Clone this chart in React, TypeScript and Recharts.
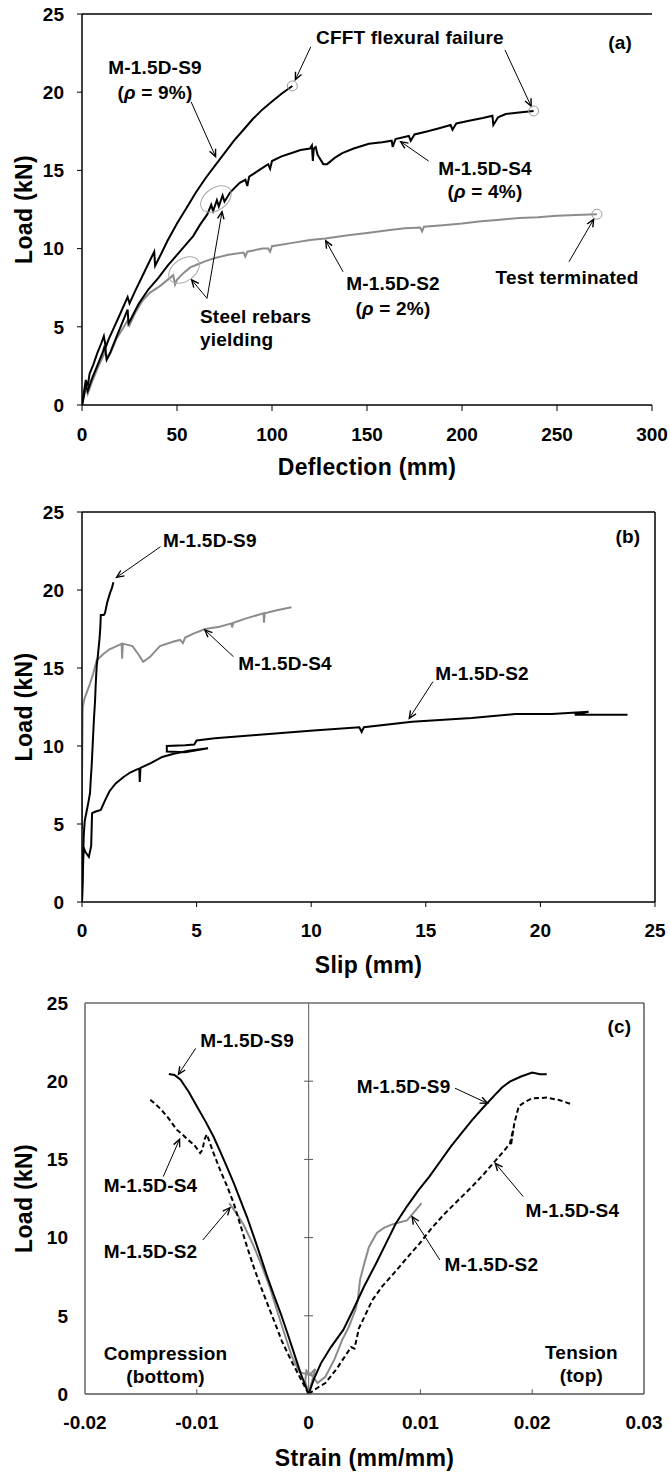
import React from 'react'
import { LineChart, Line, XAxis, YAxis, ReferenceLine, ReferenceDot } from 'recharts'

type P = { x: number; y: number }
const toPts = (a: number[][]): P[] => a.map(([x, y]) => ({ x, y }))

const FONT = '"Liberation Sans", Arial, sans-serif'
const GRAY = '#8c8c8c'

const loadTicks = [0, 5, 10, 15, 20, 25]
const deflectionTicks = [0, 50, 100, 150, 200, 250, 300]
const slipTicks = [0, 5, 10, 15, 20, 25]
const strainTicks = [-0.02, -0.01, 0, 0.01, 0.02, 0.03]
const strainInnerTicks = [-0.01, 0.01, 0.02]
const centerTicks = [5, 10, 15, 20]

// (a) load vs mid-span deflection
const defS9 = toPts([
  [0, 0], [1, 0.8], [2, 1.6], [3, 1.2], [4, 2.0], [6, 2.6], [8, 3.3], [10, 3.9], [11.5, 4.4], [12.5, 3.7],
  [14, 4.2], [17, 5.0], [20, 5.8], [24, 6.9], [25, 6.5], [28, 7.3], [32, 8.3], [36, 9.3], [38, 9.8], [38.5, 8.9],
  [41, 9.5], [45, 10.5], [50, 11.6], [55, 12.6], [60, 13.6], [65, 14.5], [70, 15.3], [75, 16.1], [80, 16.9],
  [85, 17.6], [90, 18.3], [95, 18.9], [100, 19.4], [105, 19.9], [110.7, 20.4],
])
const defS4 = toPts([
  [0, 0], [1, 0.6], [2, 1.3], [3, 0.9], [5, 1.6], [8, 2.5], [11, 3.4], [12, 3.8], [13, 2.9], [15, 3.4],
  [18, 4.3], [21, 5.2], [24, 6.1], [24.5, 5.2], [27, 5.8], [30, 6.5], [35, 7.4], [40, 8.1], [45, 8.9],
  [50, 9.6], [55, 10.3], [58.5, 10.8], [62, 11.5], [66, 12.2], [68, 12.8], [69, 12.4], [71, 13.1], [72, 12.7],
  [74, 13.4], [75, 13.0], [78, 13.6], [83, 14.2], [86, 14.4], [87, 14.0], [88, 14.6], [93, 15.0], [98, 15.4],
  [99, 15.1], [100, 15.6], [105, 15.9], [110, 16.1], [115, 16.3], [120, 16.4], [121, 16.6], [121.5, 15.6],
  [122, 16.4], [123, 16.5], [124, 16.0], [127, 15.4], [129, 15.4], [133, 15.8], [137, 16.1], [143, 16.4],
  [151, 16.7], [158, 16.8], [163, 16.9], [163.5, 16.5], [165, 17.0], [172, 17.2], [173, 16.9], [175, 17.3],
  [182, 17.5], [188, 17.7], [194, 17.9], [195, 17.6], [197, 18.0], [205, 18.2], [211, 18.35], [216, 18.5],
  [216.5, 17.9], [219, 18.4], [223, 18.6], [230, 18.7], [237.7, 18.8],
])
const defS2 = toPts([
  [0, 0], [1, 0.5], [2, 1.1], [3, 0.7], [5, 1.4], [8, 2.3], [11, 3.1], [12.5, 3.5], [13, 2.9], [15, 3.3],
  [18, 4.2], [21, 4.8], [24, 5.4], [25, 5.1], [28, 5.9], [32, 6.7], [36, 7.2], [41, 7.6], [45, 8.0], [48, 8.3],
  [49, 7.7], [50, 8.0], [53, 8.4], [57, 8.8], [61, 9.0], [65, 9.2], [70, 9.4], [77, 9.6], [85, 9.75], [86, 9.5],
  [87, 9.8], [95, 10.0], [98, 10.0], [99, 9.8], [100, 10.15], [110, 10.35], [120, 10.55], [128, 10.65],
  [140, 10.85], [150, 11.0], [160, 11.15], [170, 11.3], [178, 11.35], [179, 11.1], [180, 11.4], [190, 11.5],
  [200, 11.6], [210, 11.75], [220, 11.85], [230, 11.95], [240, 12.0], [250, 12.1], [260, 12.15], [271, 12.2],
])
const defEnds = toPts([[110.7, 20.4], [237.7, 18.8], [271, 12.2]])

// (b) load vs end slip
const slipS9 = toPts([
  [0, 0], [0.02, 1.5], [0.05, 3.0], [0.08, 4.4], [0.12, 5.2], [0.2, 5.8], [0.28, 6.4], [0.35, 7.0], [0.38, 7.8],
  [0.42, 8.7], [0.45, 9.6], [0.49, 10.8], [0.52, 11.7], [0.57, 12.9], [0.6, 14.0], [0.64, 15.1], [0.7, 15.9],
  [0.76, 16.8], [0.8, 17.6], [0.82, 18.4], [0.95, 18.4], [1.0, 18.5], [1.1, 19.2], [1.22, 19.8], [1.3, 20.1],
  [1.37, 20.5],
])
const slipS4 = toPts([
  [0, 4.7], [0, 8], [0.02, 11], [0.03, 12.5], [0.1, 13.0], [0.2, 13.4], [0.35, 14.0], [0.49, 14.65], [0.64, 15.5],
  [0.93, 15.9], [1.2, 16.2], [1.51, 16.4], [1.73, 16.55], [1.75, 15.6], [1.78, 16.55], [1.95, 16.5], [2.2, 16.4],
  [2.45, 15.9], [2.67, 15.4], [2.96, 15.7], [3.4, 16.4], [4.0, 16.7], [4.28, 16.8], [4.4, 16.6], [4.5, 16.95],
  [4.86, 17.2], [5.37, 17.5], [6.0, 17.65], [6.52, 17.86], [6.55, 17.6], [6.6, 17.9], [7.2, 18.2], [7.92, 18.5],
  [7.94, 17.9], [7.97, 18.5], [8.5, 18.7], [9.14, 18.9],
])
const slipS2 = toPts([
  [0, 0], [0.03, 1.5], [0.07, 3.5], [0.15, 3.2], [0.3, 2.9], [0.4, 3.6], [0.44, 5.7], [0.6, 5.8], [0.82, 5.9],
  [1.0, 6.5], [1.2, 7.1], [1.47, 7.6], [1.8, 8.0], [2.1, 8.3], [2.4, 8.5], [2.5, 8.55], [2.52, 7.7], [2.55, 8.6],
  [3.0, 8.9], [3.5, 9.3], [4.0, 9.5], [4.65, 9.7], [5.5, 9.85], [4.5, 9.6], [3.7, 9.65], [3.7, 10.0], [4.5, 10.05],
  [4.9, 10.1], [5.0, 10.35], [5.8, 10.5], [7.6, 10.7], [10.1, 11.0], [12.1, 11.2], [12.2, 10.9], [12.3, 11.2],
  [14.4, 11.55], [17.0, 11.8], [18.9, 12.05], [20.5, 12.05], [22.1, 12.2], [21.5, 12.0], [23.8, 12.0],
])

// (c) load vs strain (compression side negative, tension side positive)
const compS9 = toPts([
  [0, 0], [-0.0007, 1.3], [-0.0013, 2.6], [-0.0019, 3.9], [-0.0025, 5.16], [-0.0031, 6.3], [-0.0037, 7.5],
  [-0.0043, 8.8], [-0.0049, 10.06], [-0.0055, 11.3], [-0.0061, 12.4], [-0.0067, 13.5], [-0.0073, 14.5],
  [-0.0079, 15.5], [-0.0085, 16.45], [-0.0092, 17.4], [-0.01, 18.4], [-0.0107, 19.3], [-0.01145, 20.1],
  [-0.012, 20.4], [-0.0125, 20.46],
])
const compS4 = toPts([
  [0, 0], [-0.0008, 1.1], [-0.0016, 2.2], [-0.0024, 3.4], [-0.0031, 4.7], [-0.0037, 5.8], [-0.0043, 6.9],
  [-0.0049, 8.1], [-0.0055, 9.4], [-0.0061, 10.8], [-0.0067, 12.2], [-0.0073, 13.3], [-0.0079, 14.3],
  [-0.0085, 15.4], [-0.0091, 16.6], [-0.0093, 16.3], [-0.0095, 15.6], [-0.0097, 15.4], [-0.0102, 15.9],
  [-0.0107, 16.2], [-0.0113, 16.6], [-0.0118, 16.9], [-0.0125, 17.6], [-0.0132, 18.2], [-0.0138, 18.6],
  [-0.0143, 18.9],
])
const compS2 = toPts([
  [0, 0], [-0.0003, 0.8], [-0.0002, 1.5], [0.0002, 1.2], [-0.0008, 1.4], [-0.0015, 2.4], [-0.0025, 4.6],
  [-0.0035, 6.9], [-0.0043, 8.4], [-0.005, 9.6], [-0.0058, 10.8], [-0.0065, 11.6], [-0.0071, 12.2],
])
const tenS9 = toPts([
  [0, 0], [0.0005, 1.0], [0.0011, 1.96], [0.002, 3.0], [0.0031, 4.1], [0.004, 5.4], [0.00495, 6.86], [0.006, 8.3],
  [0.0069, 9.6], [0.0078, 10.9], [0.0088, 12.0], [0.0098, 13.0], [0.0108, 13.9], [0.0118, 14.9], [0.0127, 15.8],
  [0.0137, 16.7], [0.0146, 17.5], [0.0156, 18.3], [0.0165, 19.0], [0.0173, 19.6], [0.018, 19.97], [0.019, 20.3],
  [0.02, 20.55], [0.0207, 20.45], [0.0213, 20.45],
])
const tenS4 = toPts([
  [0, 0], [0.0008, 0.4], [0.0015, 0.7], [0.0025, 1.6], [0.0038, 3.0], [0.0041, 2.9], [0.0045, 4.2], [0.0057, 6.0],
  [0.0066, 6.9], [0.0076, 7.7], [0.0088, 8.7], [0.0099, 9.6], [0.011, 10.6], [0.0122, 11.55], [0.0134, 12.4],
  [0.0146, 13.25], [0.0156, 14.0], [0.0165, 14.75], [0.0173, 15.4], [0.018, 16.0], [0.0183, 16.9], [0.0181, 15.9],
  [0.0184, 17.3], [0.0188, 18.4], [0.0194, 18.7], [0.02, 18.9], [0.0213, 18.95], [0.0224, 18.8], [0.0234, 18.55],
])
const tenS2 = toPts([
  [0, 0], [0.0006, 1.6], [0.0002, 1.3], [0.0008, 0.7], [0.0015, 1.1], [0.0023, 2.2], [0.003, 3.45], [0.0036, 4.3],
  [0.0042, 5.4], [0.0044, 6.0], [0.0046, 7.3], [0.005, 8.4], [0.0054, 9.4], [0.0061, 10.3], [0.0067, 10.6],
  [0.0073, 10.8], [0.008, 10.95], [0.0088, 11.1], [0.0094, 11.6], [0.0101, 12.2],
])

const tickStyle = { fill: '#000', fontSize: 19, fontWeight: 'bold', fontFamily: FONT }

const arrowShape = (p: any) => {
  const { x1, y1, x2, y2 } = p
  const a = Math.atan2(y2 - y1, x2 - x1)
  const len = 8
  const s = 0.42
  const lx = x2 - len * Math.cos(a - s)
  const ly = y2 - len * Math.sin(a - s)
  const rx = x2 - len * Math.cos(a + s)
  const ry = y2 - len * Math.sin(a + s)
  return (
    <g>
      <line x1={x1} y1={y1} x2={x2} y2={y2} stroke="#000" strokeWidth={1} />
      <polyline points={`${lx},${ly} ${x2},${y2} ${rx},${ry}`} fill="none" stroke="#000" strokeWidth={1.4} />
    </g>
  )
}

const arrow = (k: string, x1: number, y1: number, x2: number, y2: number) => (
  <ReferenceLine
    key={k}
    segment={[{ x: x1, y: y1 }, { x: x2, y: y2 }]}
    ifOverflow="visible"
    shape={arrowShape}
  />
)

const note = (k: string, x: number, y: number, content: React.ReactNode, anchor = 'middle', size = 19) => (
  <ReferenceDot
    key={k}
    x={x}
    y={y}
    r={0}
    ifOverflow="visible"
    shape={(p: any) => (
      <text
        x={p.cx}
        y={p.cy}
        textAnchor={anchor}
        dominantBaseline="central"
        fontFamily={FONT}
        fontWeight="bold"
        fontSize={size}
        letterSpacing={0.2}
        fill="#000"
      >
        {content}
      </text>
    )}
  />
)

const ellipse = (k: string, x: number, y: number) => (
  <ReferenceDot
    key={k}
    x={x}
    y={y}
    r={0}
    ifOverflow="visible"
    shape={(p: any) => (
      <ellipse
        cx={p.cx}
        cy={p.cy}
        rx={17}
        ry={11}
        transform={`rotate(-35 ${p.cx} ${p.cy})`}
        fill="none"
        stroke="#aaa"
        strokeWidth={1}
      />
    )}
  />
)

const rho = (v: string) => (
  <>
    (<tspan fontStyle="italic">ρ</tspan> = {v})
  </>
)

const xTitle = (text: string, dy: number) => (p: any) => {
  const vb = p.viewBox
  return (
    <text
      x={vb.x + vb.width / 2}
      y={vb.y + dy}
      textAnchor="middle"
      dominantBaseline="central"
      fontFamily={FONT}
      fontWeight="bold"
      fontSize={23}
      letterSpacing={0.3}
      fill="#000"
    >
      {text}
    </text>
  )
}

const yTitle = (p: any) => {
  const vb = p.viewBox
  const cx = vb.x + 24
  const cy = vb.y + vb.height / 2
  return (
    <text
      x={cx}
      y={cy}
      transform={`rotate(-90 ${cx} ${cy})`}
      textAnchor="middle"
      dominantBaseline="central"
      fontFamily={FONT}
      fontWeight="bold"
      fontSize={23}
      letterSpacing={0.3}
      fill="#000"
    >
      Load (kN)
    </text>
  )
}

const line = (k: string, data: P[], color: string, dash?: string) => (
  <Line
    key={k}
    data={data}
    dataKey="y"
    type="linear"
    stroke={color}
    strokeWidth={2}
    strokeDasharray={dash}
    dot={false}
    activeDot={false}
    isAnimationActive={false}
  />
)

export default function App() {
  return (
    <div style={{ position: 'absolute', left: 0, top: 0, width: 670, height: 1475, background: '#fff' }}>
      {/* (a) */}
      <div style={{ position: 'absolute', left: 0, top: 0 }}>
        <LineChart width={670} height={480} margin={{ top: 14, right: 18, bottom: 0, left: 0 }}>
          <XAxis
            type="number"
            dataKey="x"
            domain={[0, 300]}
            ticks={deflectionTicks}
            allowDataOverflow
            height={75}
            tickSize={6}
            tickMargin={17}
            tick={tickStyle}
            axisLine={{ stroke: '#000', strokeWidth: 1.5 }}
            tickLine={{ stroke: '#000' }}
            label={xTitle('Deflection (mm)', 62)}
          />
          <YAxis
            type="number"
            domain={[0, 25]}
            ticks={loadTicks}
            allowDataOverflow
            width={82}
            tickSize={5}
            tickMargin={13}
            tick={tickStyle}
            axisLine={{ stroke: '#000', strokeWidth: 1.5 }}
            tickLine={{ stroke: '#000' }}
            label={yTitle}
          />
          <ReferenceLine y={25} stroke="#000" strokeWidth={1.5} />
          {line('a2', defS2, GRAY)}
          {line('a4', defS4, '#000')}
          {line('a9', defS9, '#000')}
          {defEnds.map((d, i) => (
            <ReferenceDot key={`e${i}`} x={d.x} y={d.y} r={5} fill="none" stroke="#999" strokeWidth={1} />
          ))}
          {ellipse('el1', 70.5, 13.17)}
          {ellipse('el2', 53.7, 8.63)}
          {note('t1', 172.6, 23.47, 'CFFT flexural failure')}
          {arrow('r1', 120.4, 22.9, 112.3, 20.8)}
          {arrow('r2', 222.6, 22.7, 236.4, 19.1)}
          {note('t2', 283.2, 23.2, '(a)')}
          {note('t3', 38.4, 21.55, 'M-1.5D-S9')}
          {note('t4', 38.4, 20.0, rho('9%'))}
          {arrow('r3', 57.4, 19.39, 70.3, 15.88)}
          {note('t5', 212.1, 15.15, 'M-1.5D-S4')}
          {note('t6', 212.1, 13.68, rho('4%'))}
          {arrow('r4', 182.4, 15.6, 167.7, 16.84)}
          {note('t7', 163.7, 7.74, 'M-1.5D-S2')}
          {note('t8', 163.7, 6.2, rho('2%'))}
          {arrow('r5', 137.4, 8.52, 128.3, 10.5)}
          {note('t9', 255.3, 8.18, 'Test terminated')}
          {arrow('r6', 256.3, 9.16, 269.3, 11.87)}
          {note('t10', 62.1, 5.69, 'Steel rebars', 'start')}
          {note('t11', 62.1, 4.16, 'yielding', 'start')}
          {arrow('r7', 65.8, 6.82, 57.7, 8.0)}
          {arrow('r8', 65.8, 6.82, 73.7, 12.36)}
        </LineChart>
      </div>

      {/* (b) */}
      <div style={{ position: 'absolute', left: 0, top: 480 }}>
        <LineChart width={670} height={500} margin={{ top: 32, right: 15, bottom: 0, left: 0 }}>
          <XAxis
            type="number"
            dataKey="x"
            domain={[0, 25]}
            ticks={slipTicks}
            allowDataOverflow
            height={78}
            tickSize={5}
            tickMargin={17}
            tick={tickStyle}
            axisLine={{ stroke: '#000', strokeWidth: 1.5 }}
            tickLine={{ stroke: '#000' }}
            label={xTitle('Slip (mm)', 63)}
          />
          <YAxis
            type="number"
            domain={[0, 25]}
            ticks={loadTicks}
            allowDataOverflow
            width={82}
            tickSize={5}
            tickMargin={13}
            tick={tickStyle}
            axisLine={{ stroke: '#000', strokeWidth: 1.5 }}
            tickLine={{ stroke: '#000' }}
            label={yTitle}
          />
          <ReferenceLine y={25} stroke="#000" strokeWidth={1.5} />
          <ReferenceLine x={25} stroke="#000" strokeWidth={1.5} />
          {line('b4', slipS4, GRAY)}
          {line('b2', slipS2, '#000')}
          {line('b9', slipS9, '#000')}
          {note('u1', 5.58, 23.2, 'M-1.5D-S9')}
          {arrow('s1', 3.43, 22.78, 1.51, 20.81)}
          {note('u2', 23.82, 23.42, '(b)')}
          {note('u3', 8.86, 15.32, 'M-1.5D-S4')}
          {arrow('s2', 6.61, 15.72, 5.36, 17.44)}
          {note('u4', 17.45, 14.62, 'M-1.5D-S2')}
          {arrow('s3', 15.31, 14.12, 14.28, 11.78)}
        </LineChart>
      </div>

      {/* (c) */}
      <div style={{ position: 'absolute', left: 0, top: 980 }}>
        <LineChart width={670} height={495} margin={{ top: 23, right: 26, bottom: 0, left: 0 }}>
          <XAxis
            type="number"
            dataKey="x"
            domain={[-0.02, 0.03]}
            ticks={strainTicks}
            tickFormatter={(v: number) => (v === 0 ? '0' : String(v))}
            allowDataOverflow
            height={81}
            tickSize={5}
            tickMargin={17}
            tick={tickStyle}
            axisLine={{ stroke: '#555', strokeWidth: 1.5 }}
            tickLine={false}
            label={xTitle('Strain (mm/mm)', 64)}
          />
          <YAxis
            type="number"
            domain={[0, 25]}
            ticks={loadTicks}
            allowDataOverflow
            width={85}
            tickSize={0}
            tickMargin={17}
            tick={tickStyle}
            axisLine={{ stroke: '#666', strokeWidth: 1.5 }}
            tickLine={false}
            label={yTitle}
          />
          <ReferenceLine y={25} stroke="#222" strokeWidth={1.2} />
          <ReferenceLine x={0.03} stroke="#333" strokeWidth={1.2} />
          <ReferenceLine x={0} stroke="#777" strokeWidth={1.2} />
          {centerTicks.map((t) => (
            <ReferenceLine key={`ct${t}`} segment={[{ x: -0.0004, y: t }, { x: 0.0004, y: t }]} stroke="#555" />
          ))}
          {strainInnerTicks.map((t) => (
            <ReferenceLine key={`it${t}`} segment={[{ x: t, y: 0 }, { x: t, y: 0.3 }]} stroke="#555" />
          ))}
          {line('c2a', compS2, GRAY)}
          {line('c2b', tenS2, GRAY)}
          {line('c4a', compS4, '#000', '5 3')}
          {line('c4b', tenS4, '#000', '5 3')}
          {line('c9a', compS9, '#000')}
          {line('c9b', tenS9, '#000')}
          {note('v1', 0.0278, 23.48, '(c)')}
          {note('v2', -0.0055, 22.63, 'M-1.5D-S9')}
          {arrow('w1', -0.0101, 22.1, -0.01164, 20.44)}
          {note('v3', -0.01414, 13.36, 'M-1.5D-S4')}
          {arrow('w2', -0.013, 13.9, -0.01154, 16.29)}
          {note('v4', -0.01414, 9.1, 'M-1.5D-S2')}
          {arrow('w3', -0.00946, 9.85, -0.00704, 11.91)}
          {note('v5', 0.0085, 19.69, 'M-1.5D-S9')}
          {arrow('w4', 0.0131, 19.55, 0.016, 18.59)}
          {note('v6', 0.0236, 11.76, 'M-1.5D-S4')}
          {arrow('w5', 0.0192, 12.62, 0.0167, 14.75)}
          {note('v7', 0.01635, 8.31, 'M-1.5D-S2')}
          {arrow('w6', 0.01174, 8.57, 0.00926, 11.34)}
          {note('v8', -0.0128, 2.6, 'Compression')}
          {note('v9', -0.0128, 1.1, '(bottom)')}
          {note('v10', 0.0244, 2.64, 'Tension')}
          {note('v11', 0.0244, 1.21, '(top)')}
        </LineChart>
      </div>
    </div>
  )
}
